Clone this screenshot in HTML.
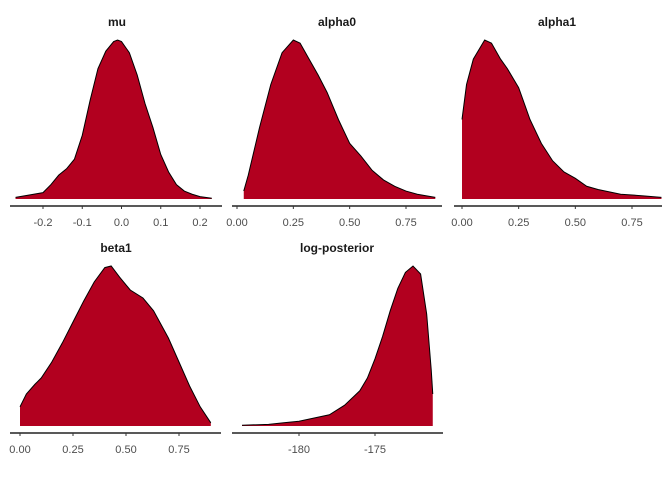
<!DOCTYPE html>
<html><head><meta charset="utf-8"><style>
body{margin:0;background:#fff}
svg{display:block;font-family:"Liberation Sans",sans-serif}
</style></head><body>
<svg id="c" width="672" height="480"></svg>
<script>
const titles=["mu","alpha0","alpha1","beta1","log-posterior"];
const muX=[-0.27,-0.2,-0.18,-0.16,-0.14,-0.12,-0.1,-0.08,-0.06,-0.04,-0.02,-0.01,0,0.02,0.04,0.06,0.08,0.1,0.12,0.14,0.16,0.18,0.2,0.23];
const muY=[0.01,0.04,0.09,0.15,0.19,0.25,0.4,0.62,0.82,0.93,0.99,1,0.99,0.92,0.78,0.6,0.45,0.28,0.17,0.09,0.05,0.03,0.015,0.005];
const a0X=[0.03,0.05,0.1,0.15,0.2,0.25,0.28,0.32,0.36,0.4,0.45,0.5,0.55,0.6,0.65,0.7,0.75,0.8,0.88];
const a0Y=[0.05,0.15,0.45,0.72,0.92,1,0.98,0.88,0.78,0.67,0.5,0.35,0.27,0.18,0.12,0.08,0.05,0.03,0.01];
const a1X=[0,0.02,0.05,0.1,0.13,0.17,0.2,0.25,0.3,0.35,0.4,0.45,0.5,0.55,0.6,0.7,0.8,0.88];
const a1Y=[0.5,0.72,0.88,1,0.98,0.88,0.82,0.7,0.5,0.35,0.24,0.17,0.13,0.08,0.06,0.03,0.02,0.01];
const b1X=[0,0.03,0.07,0.1,0.15,0.2,0.25,0.3,0.35,0.4,0.43,0.47,0.52,0.58,0.63,0.7,0.75,0.8,0.85,0.9];
const b1Y=[0.12,0.2,0.26,0.3,0.4,0.52,0.65,0.78,0.9,0.99,1,0.93,0.85,0.8,0.72,0.55,0.4,0.25,0.12,0.02];
const lpX=[-183.75,-182,-181,-180,-179,-178,-177,-176,-175.5,-175,-174.5,-174,-173.5,-173,-172.5,-172,-171.6,-171.3,-171.2];
const lpY=[0.005,0.01,0.02,0.03,0.05,0.07,0.13,0.22,0.3,0.42,0.56,0.72,0.86,0.96,1,0.95,0.7,0.35,0.2];
const ticks=[[-0.2,-0.1,0,0.1,0.2],[0,0.25,0.5,0.75],[0,0.25,0.5,0.75],[0,0.25,0.5,0.75],[-180,-175]];
const tickLabels=[["-0.2","-0.1","0.0","0.1","0.2"],["0.00","0.25","0.50","0.75"],["0.00","0.25","0.50","0.75"],["0.00","0.25","0.50","0.75"],["-180","-175"]];
const xs=[muX,a0X,a1X,b1X,lpX], ys=[muY,a0Y,a1Y,b1Y,lpY];
const L=[
 [10,222,-0.2,43,0.2,200,199,40,206,117],
 [232,442,0,237,0.75,406,199,40,206,337],
 [454,662,0,462,0.75,632,199,40,206,557],
 [10,221,0,20,0.75,179,426,266,433,116],
 [232,443,-180,299,-175,375,426,266,433,337]];
const S="http://www.w3.org/2000/svg", svg=document.getElementById('c');
function el(t,a,p){const e=document.createElementNS(S,t);for(const k in a)e.setAttribute(k,a[k]);(p||svg).appendChild(e);return e;}
L.forEach((l,i)=>{
 const g=el('g',{});
 
 
 const sx=v=>l[3]+(v-l[2])*(l[5]-l[3])/(l[4]-l[2]);
 const sy=v=>l[6]-v*(l[6]-l[7]);
 const X=xs[i],Y=ys[i];
 let d='M'+sx(X[0])+','+l[6];
 X.forEach((x,j)=>d+=' L'+sx(x)+','+sy(Y[j]));
 d+=' L'+sx(X[X.length-1])+','+l[6]+'Z';
 const a=el('path',{d:d,fill:'#b2001f',stroke:'none'},g);
 
 
 let d2='M'+sx(X[0])+','+sy(Y[0]);
 X.forEach((x,j)=>d2+=' L'+sx(x)+','+sy(Y[j]));
 const ln=el('path',{d:d2,fill:'none',stroke:'#000','stroke-width':1},g);
 
 
 const ax=el('line',{x1:l[0],x2:l[1],y1:l[8],y2:l[8],stroke:'#222','stroke-width':1.6},g);
 
 
 ticks[i].forEach((t,k)=>{
  const tk=el('line',{x1:sx(t),x2:sx(t),y1:l[8],y2:l[8]+3,stroke:'#333','stroke-width':1},g);
  
  
  const tx=el('text',{x:sx(t),y:l[8]+20,'text-anchor':'middle','font-size':11,fill:'#4d4d4d'},g);
  tx.textContent=tickLabels[i][k];
  
  
 });
 const ti=el('text',{x:l[9],y:l[7]-14,'text-anchor':'middle','font-size':12,'font-weight':'bold',fill:'#1a1a1a'},g);
 ti.textContent=titles[i];
 
 
});
</script>
</body></html>
